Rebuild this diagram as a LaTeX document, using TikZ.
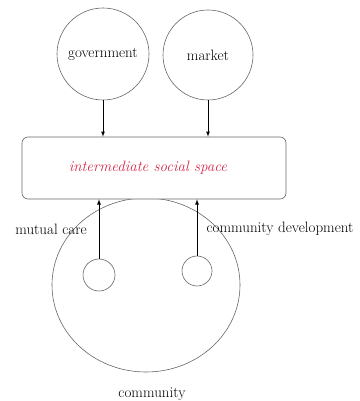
\documentclass[tikz,border=0pt]{standalone}
\usepackage{tikz}
\usetikzlibrary{positioning}
\usetikzlibrary{shapes.geometric}
\usepackage{xcolor}
\definecolor{spacered}{RGB}{214,40,72}

\begin{document}
\begin{tikzpicture}[x=1pt,y=-1pt,
        bubble/.style={draw=black!60, line width=0.6pt, circle, inner sep=0pt},
        spacebox/.style={draw=black!60, line width=0.6pt, rounded corners=6pt, fill=white},
        arr/.style={-latex, thick},
        lbl/.style={font=\fontsize{15}{17}\selectfont}]
        \useasboundingbox (0,0) rectangle (359,401);
        % outer actors
        \node[bubble, minimum size=92pt, lbl] (gov) at (103,54) {government};
        \node[bubble, minimum size=90pt, lbl] (mkt) at (208,55) {market};
        % community and its members
        \node[draw=black!60, line width=0.6pt, ellipse, minimum width=188pt, minimum height=174pt] (comm) at (146,285) {};
        \node[bubble, minimum size=32pt] (mc) at (99,275) {};
        \node[bubble, minimum size=30pt] (cd) at (197,271) {};
        \node[spacebox, minimum width=264pt, minimum height=62pt] (iss) at (154,168) {};
        \node[text=spacered, font=\fontsize{15}{17}\selectfont\itshape] at (148,168) {intermediate social space};
        % arrows
        \draw[arr] (gov) -- (gov |- iss.north);
        \draw[arr] (mkt) -- (mkt |- iss.north);
        \draw[arr] (mc) -- (mc |- iss.south);
        \draw[arr] (cd) -- (cd |- iss.south);
        % labels
        \node[lbl] (mclbl) at (51,229) {mutual care};
        \node[lbl] (cdlbl) at (280,229) {community development};
        \node[lbl] (commlbl) at (152,394) {community};
    \end{tikzpicture}
\end{document}
